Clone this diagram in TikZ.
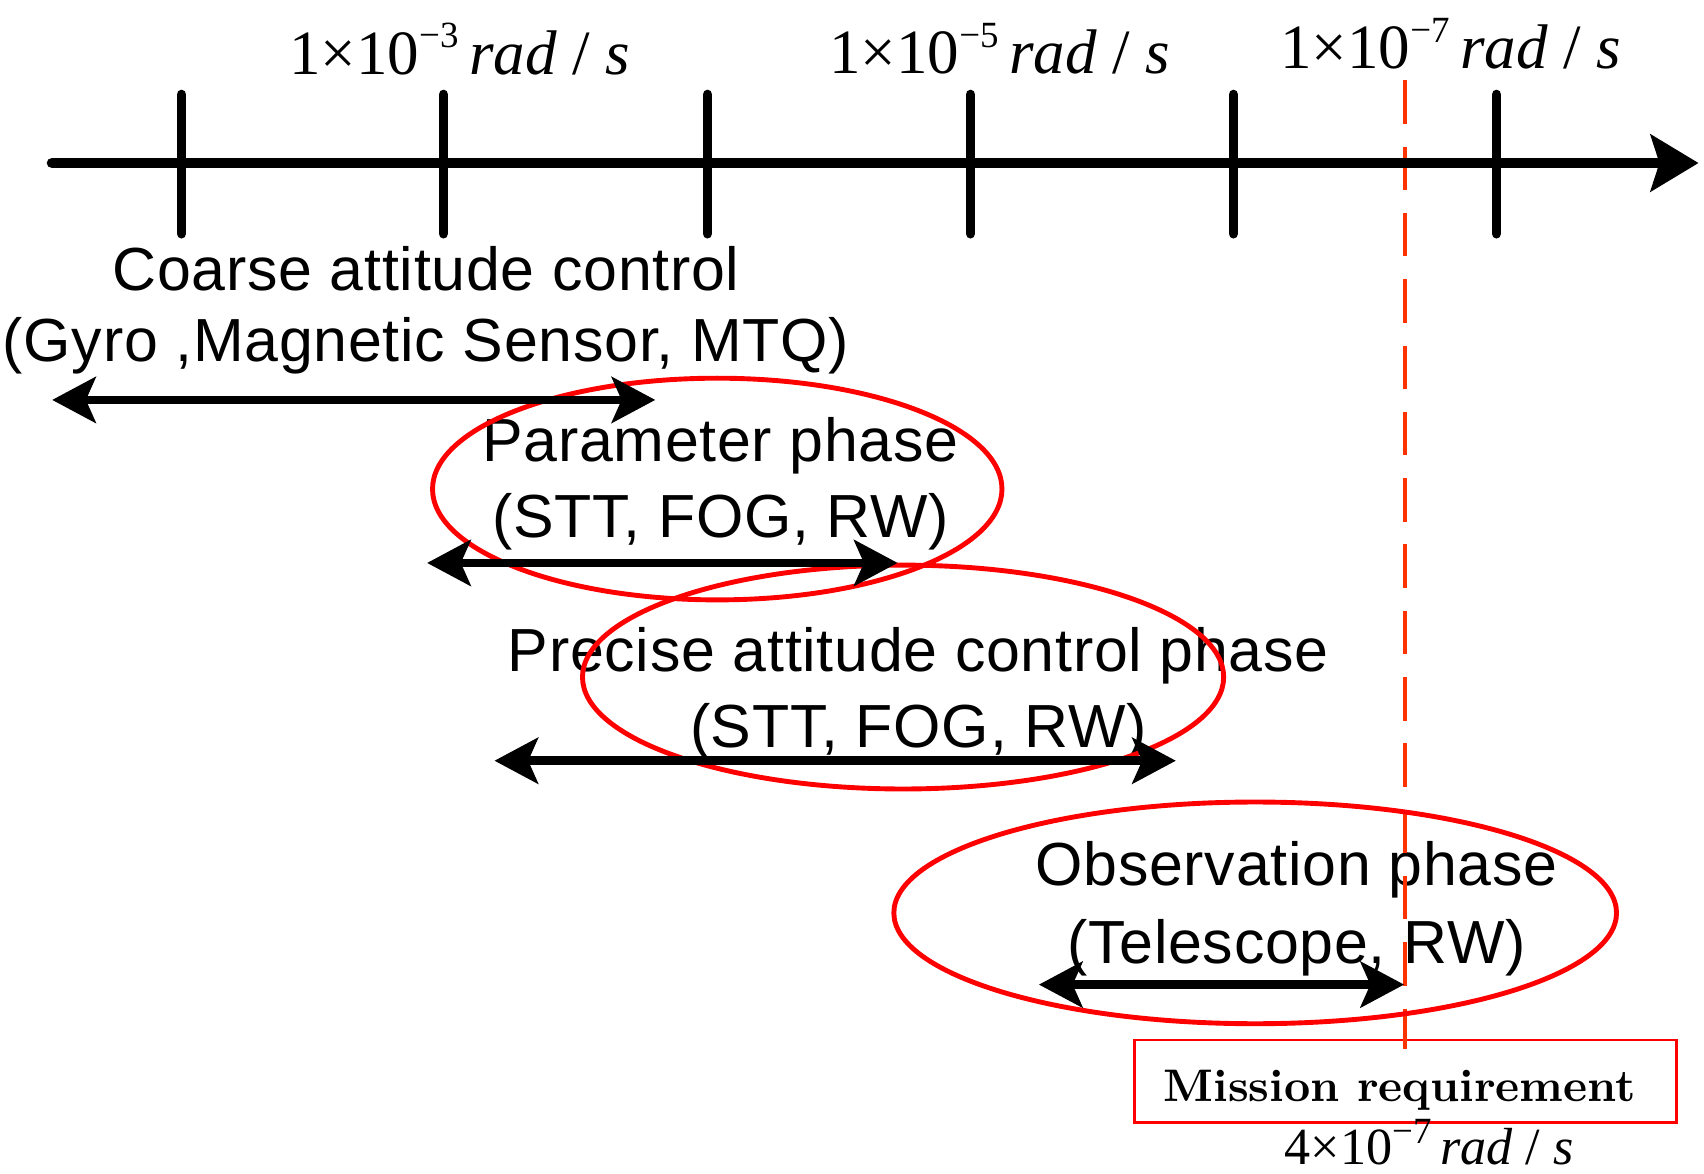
\documentclass[tikz,border=0pt]{standalone}
\usepackage{fontspec}
\setsansfont{Liberation Sans}[LetterSpace=1.2]
\newfontfamily\timesfont{Liberation Serif}
\newfontfamily\lmbf{lmroman10-bold}[Extension=.otf]
\usetikzlibrary{arrows.meta,shapes.geometric}
\definecolor{dashred}{RGB}{255,51,0}
\definecolor{ellred}{RGB}{255,0,0}
\newcommand{\ratetext}[2]{#1×10\raisebox{0.42em}{\fontsize{34}{34}\selectfont −#2}\,\textit{rad} / \textit{s}}
\begin{document}
\begin{tikzpicture}[x=1pt,y=-1pt,
  sanslabel/.style={font=\sffamily\fontsize{56}{60}\selectfont, inner sep=0pt, anchor=center},
  ratelabel/.style={font=\timesfont\fontsize{58}{62}\selectfont, inner sep=0pt, anchor=center},
  phaseellipse/.style={ellipse, draw=ellred, line width=4.5pt, inner sep=0pt},
  tickline/.style={line width=9pt, line cap=round},
  dblarrow/.style={line width=8pt, {Stealth[length=40pt,width=42pt,inset=9pt]}-{Stealth[length=40pt,width=42pt,inset=9pt]}},
  reqline/.style={draw=dashred, line width=3.5pt, dash pattern=on 40pt off 21pt}
]
\useasboundingbox (0,0) rectangle (1568,1080);

% rate labels
\node[ratelabel] (lab3) at (423,45) {\ratetext{1}{3}};
\node[ratelabel] (lab5) at (920,45) {\ratetext{1}{5}};
\node[ratelabel] (lab7) at (1335,40) {\ratetext{1}{7}};

% phase texts
\node[sanslabel] (coarseA) at (392,247) {Coarse attitude control};
\node[sanslabel] (coarseB) at (392,318) {(Gyro ,Magnetic Sensor, MTQ)};
\node[sanslabel] (paramA) at (663,410) {Parameter phase};
\node[sanslabel] (paramB) at (663,480) {(STT, FOG, RW)};
\node[sanslabel] (preciseA) at (845,603) {Precise attitude control phase};
\node[sanslabel] (preciseB) at (845,673) {(STT, FOG, RW)};
\node[sanslabel] (obsA) at (1193,800) {Observation phase};
\node[sanslabel] (obsB) at (1193,872) {(Telescope, RW)};

% mission requirement
\node[draw=ellred, line width=2.5pt, minimum width=499pt, minimum height=76pt, inner sep=0pt] (mission) at (1293.5,995) {};
\node[inner sep=0pt, font=\lmbf\fontsize{42}{44}\selectfont] (missionText) at (1288,1003) {Mission requirement};
\node[ratelabel, font=\timesfont\fontsize{48}{52}\selectfont] (req) at (1315,1051) {\ratetext{4}{7}};

% red dashed requirement line
\coordinate (reqtop) at (1293,74);
\coordinate (reqbot) at (1293,965);
\draw[reqline] (reqtop) -- (reqbot);

% axis
\coordinate (axL) at (48,150);
\coordinate (axR) at (1563,150);
\draw[line width=10pt, line cap=round, -{Stealth[length=44pt,width=52pt,inset=8pt]}] (axL) -- (axR);
\foreach \i/\x in {1/167,2/408,3/651,4/893,5/1135,6/1377}{
  \coordinate (tickT\i) at (\x,87);
  \coordinate (tickB\i) at (\x,215);
  \draw[tickline] (tickT\i) -- (tickB\i);
}

% ellipses
\node[phaseellipse, minimum width=524pt, minimum height=204pt] (ellParam) at (660,450) {};
\node[phaseellipse, minimum width=590pt, minimum height=206pt] (ellPrecise) at (831,623) {};
\node[phaseellipse, minimum width=665pt, minimum height=204pt] (ellObs) at (1155,840) {};

% range arrows
\coordinate (cL) at (48,368);  \coordinate (cR) at (603,368);
\coordinate (pL) at (393,518); \coordinate (pR) at (826,518);
\coordinate (qL) at (455,700); \coordinate (qR) at (1082,700);
\coordinate (oL) at (956,906); \coordinate (oR) at (1292,906);
\draw[dblarrow] (cL) -- (cR);
\draw[dblarrow] (pL) -- (pR);
\draw[dblarrow] (qL) -- (qR);
\draw[dblarrow] (oL) -- (oR);
\end{tikzpicture}
\end{document}
